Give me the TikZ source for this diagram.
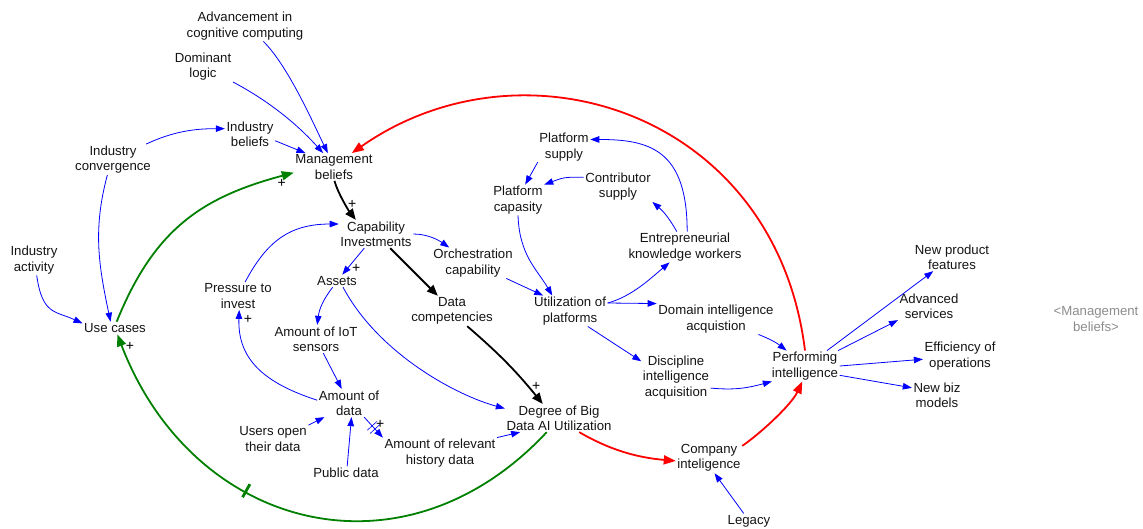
\documentclass[tikz,border=0pt]{standalone}
\usepackage{fontspec}
\setmainfont{Liberation Sans}
\usetikzlibrary{arrows.meta}
\definecolor{lblue}{RGB}{0,0,255}
\definecolor{lred}{RGB}{255,0,0}
\definecolor{lgreen}{RGB}{0,128,0}
\definecolor{ltext}{RGB}{20,20,20}
\definecolor{lgray}{RGB}{140,140,140}
\newcommand\varfont{\fontsize{13.2}{15.2}\selectfont}
\newcommand\plusfont{\fontsize{14}{14}\selectfont}
\begin{document}
\begin{tikzpicture}[x=1pt,y=1pt,
 var/.style={font=\varfont, align=center, inner sep=1.5pt, text=ltext},
 ghost/.style={var, text=lgray},
 blu/.style={draw=lblue, line width=0.8pt, -{Triangle[length=9pt,width=6.5pt]}},
 blk/.style={draw=black, line width=1.8pt, -{Triangle[length=11pt,width=9pt]}},
 rd/.style={draw=lred, line width=1.8pt, -{Triangle[length=12pt,width=9pt]}},
 gr/.style={draw=lgreen, line width=1.8pt, -{Triangle[length=12pt,width=9pt]}},
 plus/.style={font=\plusfont, inner sep=0pt, text=black},
 gtick/.style={sloped, fill=lgreen, minimum width=2.8pt, minimum height=15pt, inner sep=0pt},
 dmark/.style={sloped, minimum width=3.5pt, minimum height=12pt, inner sep=0pt}
]
\useasboundingbox (0,0) rectangle (1143,-528);

% variables
\node[var] (adv) at (245,-26) {Advancement in\\cognitive computing};
\node[var] (dom) at (203,-66.5) {Dominant\\logic};
\node[var] (ib) at (250,-134) {Industry\\beliefs};
\node[var] (conv) at (113,-159.5) {Industry\\convergence};
\node[var] (mgmt) at (334,-167) {Management\\beliefs};
\node[var] (ia) at (34,-260) {Industry\\activity};
\node[var] (uc) at (115,-328) {Use cases};
\node[var] (cap) at (376,-234) {Capability\\Investments};
\node[var] (orch) at (473,-263) {Orchestration\\capability};
\node[var] (assets) at (337,-281) {Assets};
\node[var] (pti) at (238,-296) {Pressure to\\invest};
\node[var] (dc) at (452,-311) {Data\\competencies};
\node[var] (iot) at (316,-339) {Amount of IoT\\sensors};
\node[var] (aod) at (349,-403) {Amount of\\data};
\node[var] (uotd) at (273,-439) {Users open\\their data};
\node[var] (pd) at (346,-473) {Public data};
\node[var] (arhd) at (440,-453) {Amount of relevant\\history data};
\node[var] (deg) at (559,-418) {Degree of Big\\Data AI Utilization};
\node[var] (ci) at (709,-458) {Company\\inteligence};
\node[var] (leg) at (749,-521) {Legacy};
\node[var] (ps) at (564,-147) {Platform\\supply};
\node[var] (pcap) at (518,-200) {Platform\\capasity};
\node[var] (cs) at (618,-186.5) {Contributor\\supply};
\node[var] (ekw) at (685,-247) {Entrepreneurial\\knowledge workers};
\node[var] (up) at (570,-311) {Utilization of\\platforms};
\node[var] (dia) at (716,-319) {Domain intelligence\\acquistion};
\node[var] (dis) at (676,-377.5) {Discipline\\intelligence\\acquisition};
\node[var] (perf) at (805,-366) {Performing\\intelligence};
\node[var] (npf) at (952,-257) {New product\\features};
\node[var] (nas) at (929,-306) {Advanced\\services};
\node[var] (eo) at (960,-356) {Efficiency of\\operations};
\node[var] (nbm) at (937,-395) {New biz\\models};
\node[ghost] (mb2) at (1096,-319) {<Management\\beliefs>};

% links
\draw[blu] (adv.-40) .. controls +(-45:35) and +(116:35) .. (mgmt.114);
\draw[blu] (dom.south east) .. controls +(-28:40) and +(132:40) .. (mgmt.128);
\draw[blu] (ib.-15) -- (mgmt.154);
\draw[blu] (conv.25) .. controls +(25:30) and +(180:30) .. (ib.168);
\draw[blu] (conv.-110) .. controls +(-105:55) and +(102:60) .. (uc.125);
\draw[blu] (ia.-80) .. controls +(-82:40) and +(155:30) .. (uc.172);
\draw[gr] (uc.75) .. controls +(68:100) and +(195:95) .. (mgmt.188)
  node[plus,pos=1,xshift=-12pt,yshift=-10.4pt] (pl1) {+};
\draw[blk] (mgmt.-88) .. controls +(-75:12) and +(128:12) .. (cap.145)
  node[plus,pos=1,xshift=-3.7pt,yshift=15.5pt] (pl2) {+};
\draw[rd] (perf.north) .. controls +(97:240) and +(35:210) .. (mgmt.38);
\draw[blu] (cap.east) .. controls +(0:15) and +(145:12) .. (orch.147);
\draw[blu] (cap) -- (assets) node[plus,pos=1,xshift=14pt,yshift=6.5pt] (pl3) {+};
\draw[blk] (cap) -- (dc.133);
\draw[blu] (pti.63) .. controls +(62:45) and +(180:50) .. (cap.165);
\draw[blu] (assets) to[bend right=15] (iot);
\draw[blu] (assets.-46) .. controls +(-62:75) and +(165:50) .. (deg.170);
\draw[blu] (iot) -- (aod);
\draw[blu] (aod.175) .. controls +(162:55) and +(-92:50) .. (pti.-85)
  node[plus,pos=1,xshift=8.8pt,yshift=-9.5pt] (pl4) {+};
\draw[blu] (uotd.north east) -- (aod.-150);
\draw[blu] (pd.80) -- (aod.-80);
\draw[blu] (aod.-43) -- (arhd.165) node[dmark,pos=0.5] (dm) {}
  node[plus,pos=1,xshift=-2.6pt,yshift=13.5pt] (pl5) {+};
\draw[lblue, line width=0.6pt] (dm.north west) -- (dm.south west) (dm.north east) -- (dm.south east);
\draw[blu] (arhd.north east) -- (deg.200);
\draw[blk] (dc.-45) to[bend left=5] node[plus,pos=1,xshift=-6.5pt,yshift=17.5pt] (pl6) {+} (deg.139);
\draw[rd] (deg.-35) .. controls +(-30:35) and +(175:40) .. (ci.185);
\draw[gr] (deg.-131) .. controls +(-133:210) and +(-69:210) .. (uc.-70)
  node[gtick,pos=0.63] (gt) {}
  node[plus,pos=1,xshift=12.7pt,yshift=-11.8pt] (pl7) {+};
\draw[rd] (ci.20) .. controls +(35:25) and +(-115:25) .. (perf.-100);
\draw[blu] (leg.125) -- (ci.-70);
\draw[blu] (ps.-150) -- (pcap.65);
\draw[blu] (cs.165) .. controls +(178:20) and +(20:18) .. (pcap.north east);
\draw[blu] (pcap.south) .. controls +(-88:40) and +(120:30) .. (up.139);
\draw[blu] (orch) -- (up.150);
\draw[blu] (up.12) .. controls +(15:25) and +(-140:25) .. (ekw.-135);
\draw[blu] (up.12) -- (dia.north west);
\draw[blu] (up.-41) -- (dis.155);
\draw[blu] (ekw.82) .. controls +(90:82) and +(0:59) .. (ps.16);
\draw[blu] (ekw.118) to[bend right=10] (cs.south east);
\draw[blu] (dia.-20) to[bend left=8] (perf.140);
\draw[blu] (dis.-17) .. controls +(-5:25) and +(195:25) .. (perf.-155);
\draw[blu] (perf.35) -- (npf.-143);
\draw[blu] (perf.25) -- (nas.south west);
\draw[blu] (perf.east) -- (eo.185);
\draw[blu] (perf.-15) -- (nbm.164);
\end{tikzpicture}
\end{document}
